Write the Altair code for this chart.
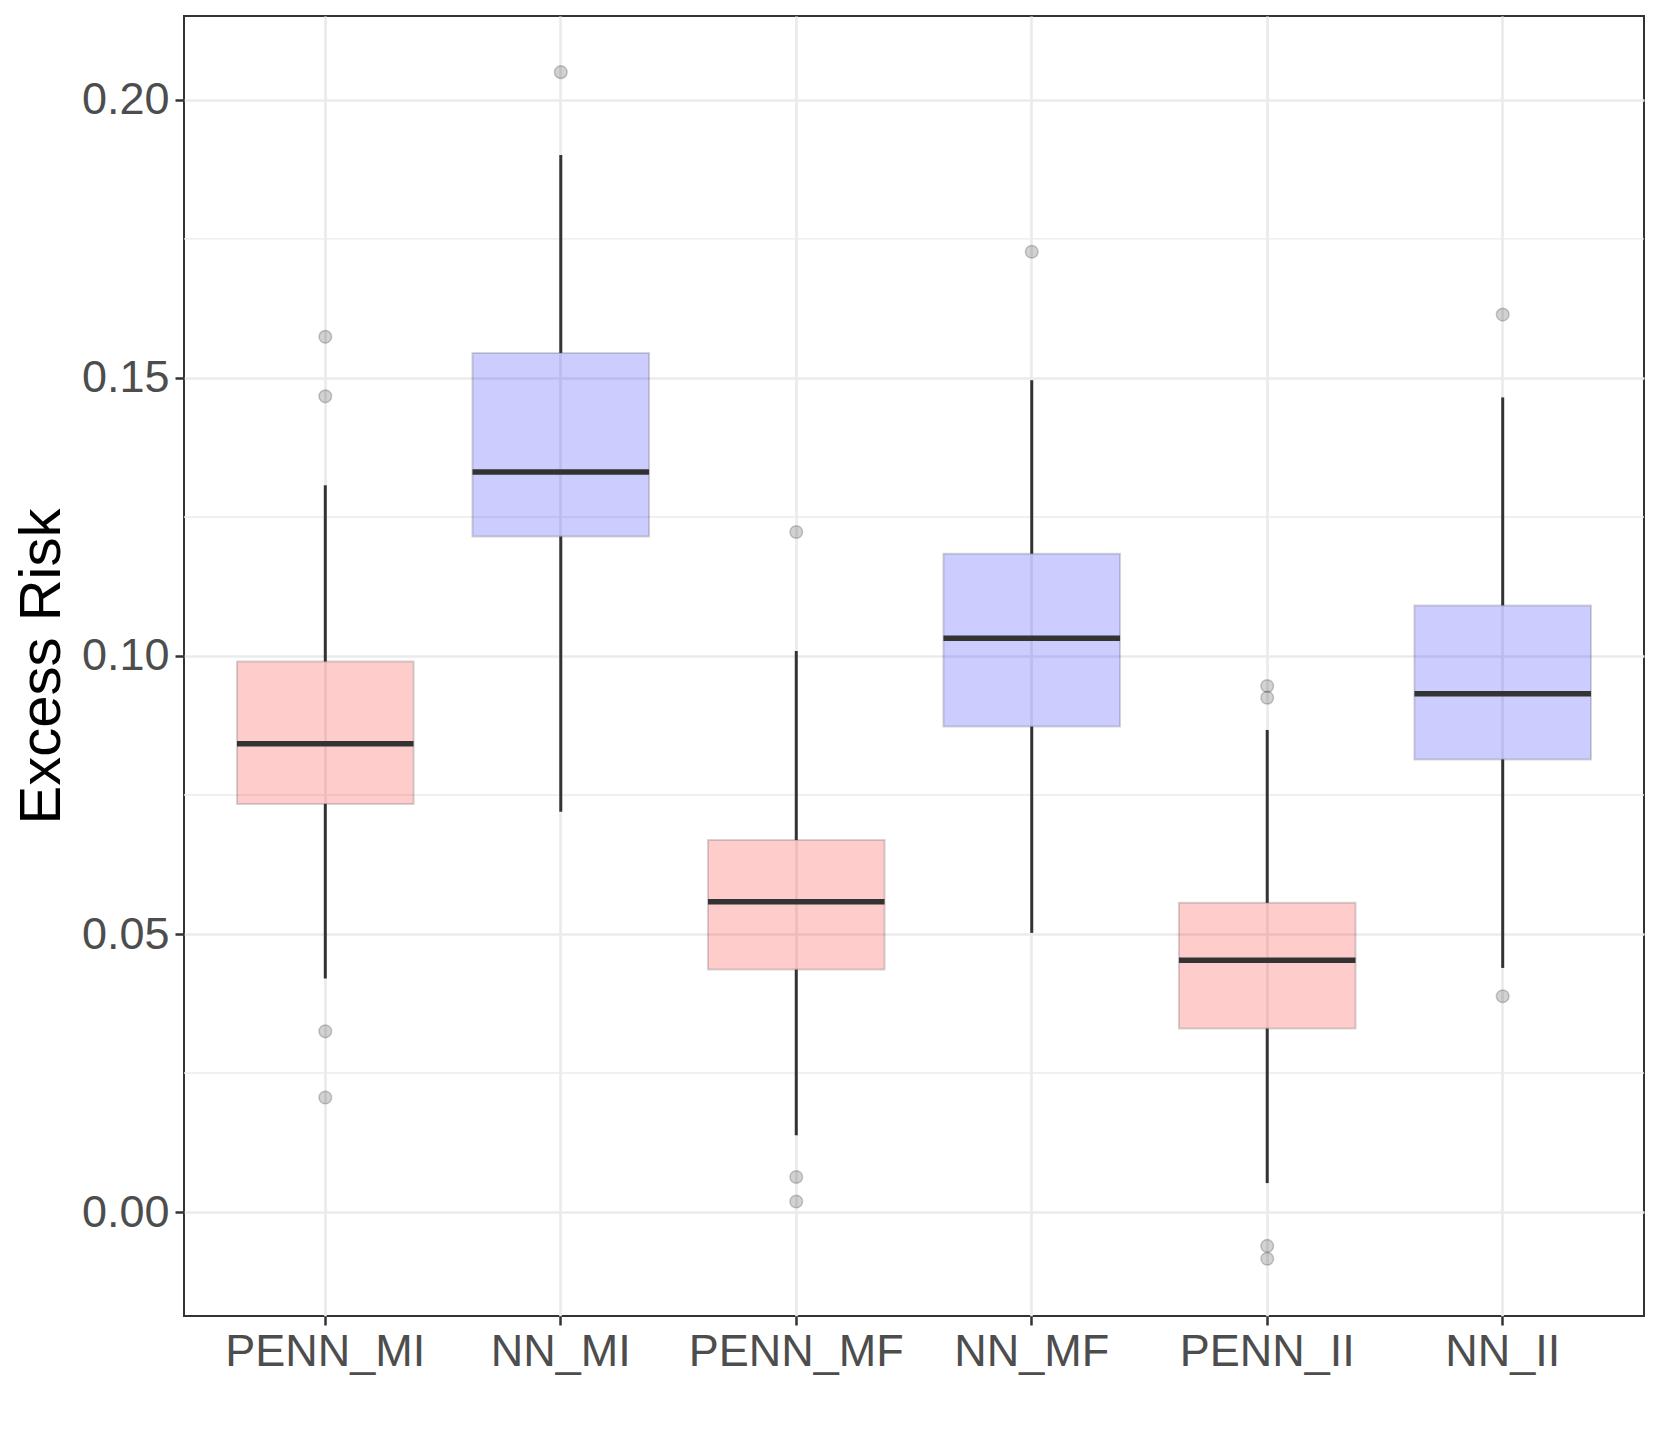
import altair as alt
import pandas as pd

# ---- data ----
methods = ["PENN_MI", "NN_MI", "PENN_MF", "NN_MF", "PENN_II", "NN_II"]
groups = ["PENN", "NN", "PENN", "NN", "PENN", "NN"]
lower = [0.0420, 0.0720, 0.0138, 0.0502, 0.0052, 0.0439]
q1 = [0.0734, 0.1215, 0.0436, 0.0873, 0.0330, 0.0814]
median = [0.0842, 0.1331, 0.0558, 0.1032, 0.0453, 0.0932]
q3 = [0.0990, 0.1545, 0.0669, 0.1184, 0.0556, 0.1091]
upper = [0.1307, 0.1901, 0.1009, 0.1496, 0.0867, 0.1465]

outlier_method = ["PENN_MI", "PENN_MI", "PENN_MI", "PENN_MI",
                  "NN_MI",
                  "PENN_MF", "PENN_MF", "PENN_MF",
                  "NN_MF",
                  "PENN_II", "PENN_II", "PENN_II", "PENN_II",
                  "NN_II", "NN_II"]
outlier_value = [0.1574, 0.1467, 0.0325, 0.0206,
                 0.2050,
                 0.1223, 0.0063, 0.0019,
                 0.1727,
                 0.0946, 0.0925, -0.0061, -0.0084,
                 0.1614, 0.0388]

y_ticks = [0.00, 0.05, 0.10, 0.15, 0.20]
minor_breaks = [0.025, 0.075, 0.125, 0.175]
y_domain = [-0.0187, 0.2151]

box_df = pd.DataFrame(dict(method=methods, group=groups, lower=lower, q1=q1,
                           median=median, q3=q3, upper=upper))
out_df = pd.DataFrame(dict(method=outlier_method, value=outlier_value))
minor_df = pd.DataFrame(dict(v=minor_breaks))

W, H = 1460, 1300
step = W / (len(methods) + 0.2)
box_w = 0.75 * step

FONT = "Liberation Sans"

xaxis = alt.Axis(title=None, labelFont=FONT, labelFontSize=45, labelColor="#4D4D4D",
                 labelAngle=0, labelPadding=4, labelLimit=0, tickSize=9, tickWidth=2.5,
                 tickColor="#333333", domain=False, grid=True, gridColor="#EBEBEB",
                 gridWidth=2.7)
yaxis = alt.Axis(title="Excess Risk", values=y_ticks, format=".2f", labelFont=FONT,
                 labelFontSize=45, labelColor="#4D4D4D", labelPadding=6, tickSize=9,
                 tickWidth=2.5, tickColor="#333333", domain=False, grid=True,
                 gridColor="#EBEBEB", gridWidth=2.7, titleFont=FONT, titleFontSize=58,
                 titleFontWeight="normal", titleColor="#000000", titleAngle=270,
                 titleX=-125, titleY=H / 2, titleAlign="center",
                 titleBaseline="alphabetic", titleLimit=0)

xscale = alt.Scale(domain=methods, paddingInner=0, paddingOuter=0.1)
yscale = alt.Scale(domain=y_domain, nice=False, zero=False)


def X():
    return alt.X("method:N", sort=methods, scale=xscale, axis=xaxis)


def Y(field):
    return alt.Y(field, type="quantitative", scale=yscale, axis=yaxis)


minor = alt.Chart(minor_df).mark_rule(color="#EBEBEB", strokeWidth=1.3).encode(y=Y("v"))

boxes = alt.Chart(box_df).mark_bar(
    width={"band": 0.75}, fillOpacity=0.2, stroke="#333333", strokeOpacity=0.2,
    strokeWidth=2
).encode(
    x=X(), y=Y("q1"), y2="q3",
    fill=alt.Fill("group:N", scale=alt.Scale(domain=["PENN", "NN"],
                                              range=["#FF0000", "#0000FF"]),
                  legend=None),
)

whisk_lo = alt.Chart(box_df).mark_rule(color="#333333", strokeWidth=3).encode(
    x=X(), y=Y("lower"), y2="q1")
whisk_hi = alt.Chart(box_df).mark_rule(color="#333333", strokeWidth=3).encode(
    x=X(), y=Y("q3"), y2="upper")

med = alt.Chart(box_df).mark_tick(color="#333333", thickness=5.5, size=box_w,
                                  opacity=1).encode(x=X(), y=Y("median"))

outl = alt.Chart(out_df).mark_circle(size=160, fill="#333333", stroke="#333333",
                                     strokeWidth=1.5, fillOpacity=0.22,
                                     strokeOpacity=0.25).encode(
    x=X(), y=Y("value"))

chart = alt.layer(minor, boxes, whisk_lo, whisk_hi, med, outl).properties(
    width=W, height=H,
    autosize=alt.AutoSizeParams(type="none"),
    padding={"left": 176, "top": 8, "right": 9, "bottom": 129},
    background="white",
).configure_view(stroke="#333333", strokeWidth=2)

chart.save("out.html", embed_options={"renderer": "svg", "actions": False})
